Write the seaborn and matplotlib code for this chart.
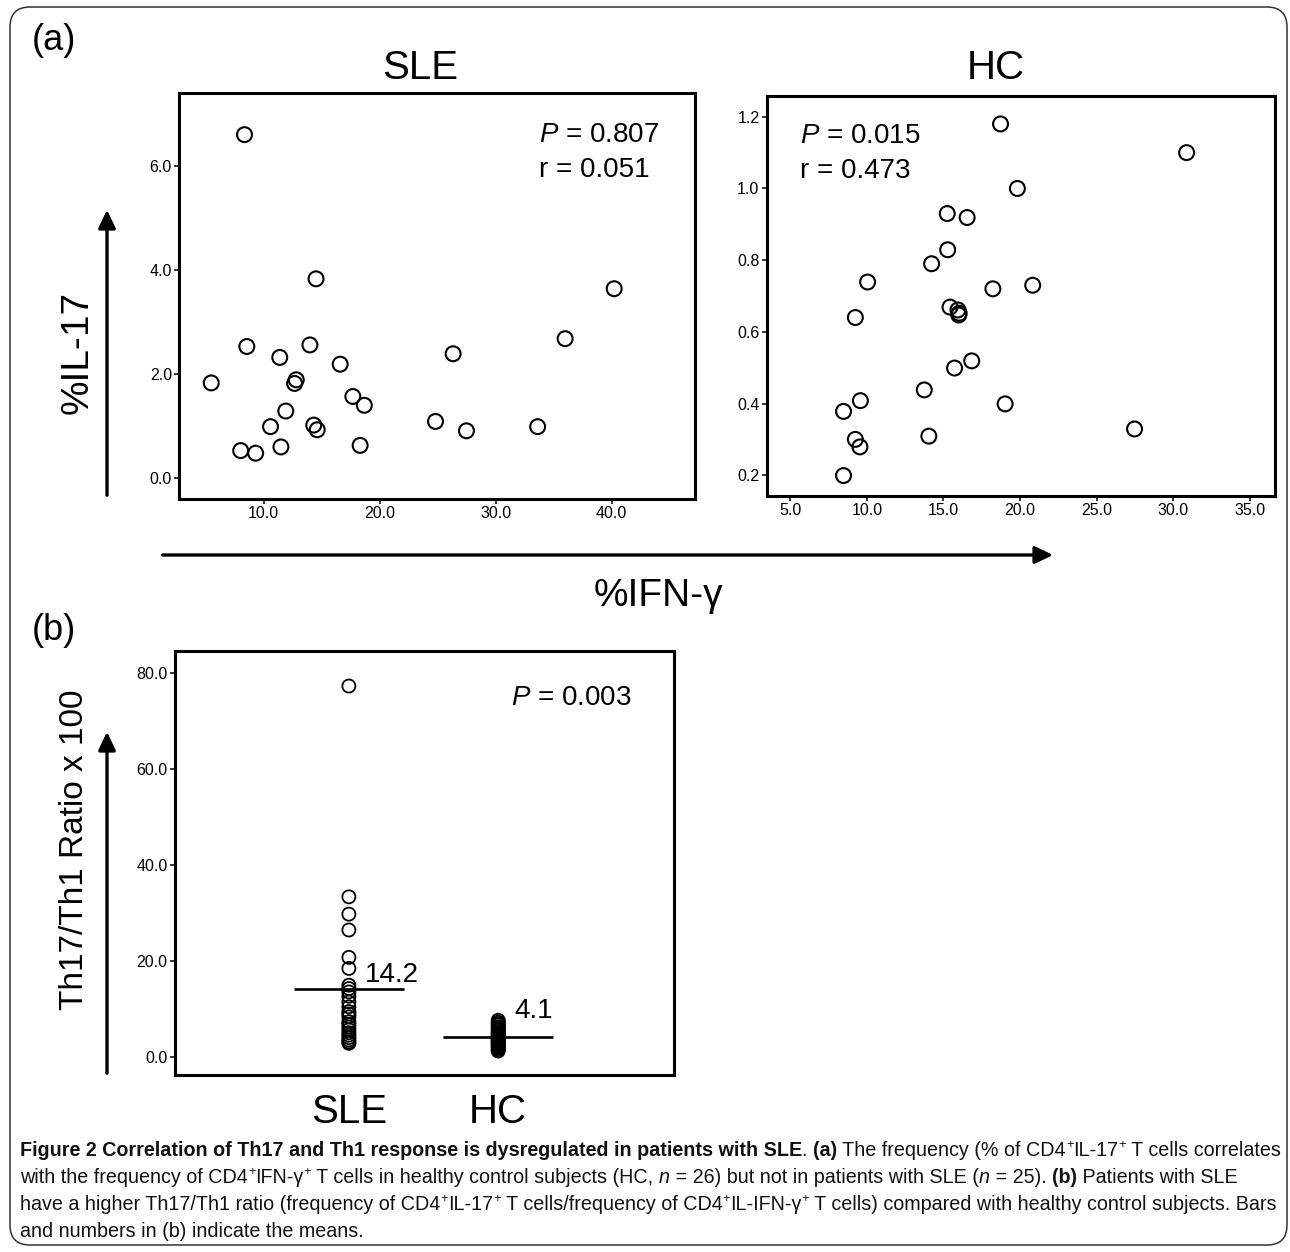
import numpy as np
import pandas as pd
import matplotlib
matplotlib.use("Agg")
import matplotlib.pyplot as plt
import seaborn as sns
from matplotlib import font_manager
from matplotlib.patches import FancyArrowPatch, FancyBboxPatch

# ---- data ----
sle_ifng = [8.35, 14.52, 40.23, 36.0, 8.55, 13.99, 26.34, 11.39, 16.60, 5.48, 12.81, 12.67, 17.69,
            18.68, 11.91, 24.82, 10.59, 14.32, 14.62, 27.49, 33.63, 8.02, 9.31, 11.49, 18.32]
sle_il17 = [6.60, 3.83, 3.64, 2.68, 2.53, 2.56, 2.39, 2.32, 2.19, 1.83, 1.89, 1.82, 1.57,
            1.40, 1.29, 1.09, 0.99, 1.02, 0.93, 0.91, 0.99, 0.53, 0.48, 0.60, 0.63]

hc_ifng = [18.73, 30.88, 19.83, 15.25, 16.55, 15.28, 14.23, 10.05, 18.23, 20.83, 9.25, 15.43, 15.95,
           16.03, 16.0, 16.85, 15.73, 13.75, 9.58, 8.48, 19.03, 9.25, 9.55, 14.05, 27.48, 8.48]
hc_il17 = [1.180, 1.100, 1.000, 0.930, 0.919, 0.829, 0.790, 0.739, 0.720, 0.730, 0.640, 0.669, 0.661,
           0.652, 0.647, 0.519, 0.499, 0.438, 0.408, 0.378, 0.399, 0.300, 0.279, 0.309, 0.329, 0.199]

ratio_sle = [77.2, 33.3, 29.7, 26.4, 20.7, 18.4, 14.9, 14.2, 13.5, 12.6, 11.4, 10.4, 9.4, 8.9, 8.3,
             7.3, 6.8, 6.2, 5.6, 5.0, 4.5, 4.0, 3.5, 3.1, 2.8]
ratio_hc = [7.6, 7.2, 6.9, 6.6, 6.2, 5.9, 5.6, 5.3, 5.0, 4.8, 4.5, 4.3, 4.1, 3.9, 3.7, 3.5, 3.3,
            3.1, 2.9, 2.7, 2.5, 2.3, 2.0, 1.8, 1.5, 1.2]
groups = ["SLE", "HC"]
group_means = [14.2, 4.1]
mean_labels = ["14.2", "4.1"]

stats_sle = ("0.807", "0.051")
stats_hc = ("0.015", "0.473")
p_ratio = "0.003"

# ---- style ----
sns.set_style("white")
plt.rcParams["font.family"] = ["Liberation Sans", "DejaVu Sans"]
plt.rcParams["text.color"] = "black"
plt.rcParams["axes.labelcolor"] = "black"
plt.rcParams["xtick.color"] = "black"
plt.rcParams["ytick.color"] = "black"
plt.rcParams["mathtext.fontset"] = "custom"
plt.rcParams["mathtext.rm"] = "Liberation Sans"
plt.rcParams["mathtext.it"] = "Liberation Sans:italic"
plt.rcParams["mathtext.bf"] = "Liberation Sans:bold"

names = {f.name for f in font_manager.fontManager.ttflist}
cap_family = "Liberation Sans Narrow" if "Liberation Sans Narrow" in names else "Liberation Sans"

W, H = 1290, 1252
fig = plt.figure(figsize=(W / 100, H / 100), dpi=100)


def fx(x):
    return x / W


def fy(y):
    return 1 - y / H


def box(l, t, r, b):
    return [fx(l), fy(b), (r - l) / W, (b - t) / H]


ax_sle = fig.add_axes(box(179, 93, 695, 499))
ax_hc = fig.add_axes(box(766.5, 96, 1275, 496))
ax_b = fig.add_axes(box(174.6, 651, 674, 1075))

df_sle = pd.DataFrame({"ifng": sle_ifng, "il17": sle_il17})
df_hc = pd.DataFrame({"ifng": hc_ifng, "il17": hc_il17})
df_ratio = pd.DataFrame({
    "group": ["SLE"] * len(ratio_sle) + ["HC"] * len(ratio_hc),
    "ratio": ratio_sle + ratio_hc,
})

sns.scatterplot(data=df_sle, x="ifng", y="il17", ax=ax_sle, s=115,
                facecolor="none", edgecolor="black", linewidth=1.5)
sns.scatterplot(data=df_hc, x="ifng", y="il17", ax=ax_hc, s=115,
                facecolor="none", edgecolor="black", linewidth=1.5)
sns.stripplot(data=df_ratio, x="group", y="ratio", order=groups, jitter=False, ax=ax_b,
              size=9.4, facecolor="none", edgecolor="black", linewidth=1.3)

for i, (m, lab) in enumerate(zip(group_means, mean_labels)):
    ax_b.hlines(m, i - 0.37, i + 0.37, color="black", lw=1.9)
    ax_b.text(i + 0.11, m + (2.8 if i == 0 else 5.5), lab, fontsize=20, va="center", ha="left")

ax_sle.set_xlim(2.7, 47.2)
ax_sle.set_ylim(-0.4, 7.4)
ax_sle.set_xticks([10, 20, 30, 40])
ax_sle.set_yticks([0, 2, 4, 6])

ax_hc.set_xlim(3.45, 36.65)
ax_hc.set_ylim(0.142, 1.258)
ax_hc.set_xticks([5, 10, 15, 20, 25, 30, 35])
ax_hc.set_yticks([0.2, 0.4, 0.6, 0.8, 1.0, 1.2])

ax_b.set_xlim(-1.167, 2.177)
ax_b.set_ylim(-3.8, 84.5)
ax_b.set_yticks([0, 20, 40, 60, 80])

for ax in (ax_sle, ax_hc, ax_b):
    ax.set_xlabel("")
    ax.set_ylabel("")
    for sp in ax.spines.values():
        sp.set_visible(True)
        sp.set_linewidth(2.2)
        sp.set_color("black")
    ax.tick_params(direction="out", length=3.6, width=1.1, labelsize=11.5, pad=1.5,
                   colors="black", left=True, bottom=True)
    ax.yaxis.set_major_formatter(matplotlib.ticker.FormatStrFormatter("%.1f"))
    if ax is not ax_b:
        ax.xaxis.set_major_formatter(matplotlib.ticker.FormatStrFormatter("%.1f"))

ax_b.tick_params(axis="x", length=0, labelsize=29, pad=13)

ax_sle.text(0.698, 0.897, rf"$P$ = {stats_sle[0]}", transform=ax_sle.transAxes, fontsize=20, va="center")
ax_sle.text(0.698, 0.810, f"r = {stats_sle[1]}", transform=ax_sle.transAxes, fontsize=20, va="center")
ax_hc.text(0.066, 0.900, rf"$P$ = {stats_hc[0]}", transform=ax_hc.transAxes, fontsize=20, va="center")
ax_hc.text(0.066, 0.8125, f"r = {stats_hc[1]}", transform=ax_hc.transAxes, fontsize=20, va="center")
ax_b.text(0.674, 0.889, rf"$P$ = {p_ratio}", transform=ax_b.transAxes, fontsize=20, va="center")

# ---- figure-level labels and arrows ----
fig.text(fx(54), fy(40), "(a)", fontsize=26, ha="center", va="center")
fig.text(fx(54), fy(630), "(b)", fontsize=26, ha="center", va="center")
fig.text(fx(420), fy(68), "SLE", fontsize=29, ha="center", va="center")
fig.text(fx(996), fy(68), "HC", fontsize=29, ha="center", va="center")
fig.text(fx(78), fy(352), "%IL-17", fontsize=28, rotation=90, ha="center", va="center")
fig.text(fx(658), fy(596), "%IFN-\u03b3", fontsize=28, ha="center", va="center")
fig.text(fx(75), fy(850), "Th17/Th1 Ratio x 100", fontsize=24, rotation=90, ha="center", va="center")

arrow_kw = dict(transform=fig.transFigure, arrowstyle="-|>,head_length=0.55,head_width=0.26",
                mutation_scale=20, lw=2.4, color="black")
fig.add_artist(FancyArrowPatch((fx(107), fy(498)), (fx(107), fy(207)), **arrow_kw))
fig.add_artist(FancyArrowPatch((fx(160), fy(555)), (fx(1056), fy(555)), **arrow_kw))
fig.add_artist(FancyArrowPatch((fx(107), fy(1076)), (fx(107), fy(729)), **arrow_kw))

fig.add_artist(FancyBboxPatch((0.10, 0.07), 12.77, 12.38, boxstyle="round,pad=0,rounding_size=0.2",
                              transform=fig.dpi_scale_trans, fill=False, lw=1.1, ec="#333333"))

# ---- caption ----
caption = [
    [("Figure 2 Correlation of Th17 and Th1 response is dysregulated in patients with SLE", "b"),
     (". ", "n"), ("(a)", "b"), (" The frequency (% of CD4", "n"), ("+", "s"), ("IL-17", "n"),
     ("+", "s"), (" T cells correlates", "n")],
    [("with the frequency of CD4", "n"), ("+", "s"), ("IFN-\u03b3", "n"), ("+", "s"),
     (" T cells in healthy control subjects (HC, ", "n"), ("n", "i"), (" = 26) but not in patients with SLE (", "n"),
     ("n", "i"), (" = 25). ", "n"), ("(b)", "b"), (" Patients with SLE", "n")],
    [("have a higher Th17/Th1 ratio (frequency of CD4", "n"), ("+", "s"), ("IL-17", "n"), ("+", "s"),
     (" T cells/frequency of CD4", "n"), ("+", "s"), ("IL-IFN-\u03b3", "n"), ("+", "s"),
     (" T cells) compared with healthy control subjects. Bars", "n")],
    [("and numbers in (b) indicate the means.", "n")],
]
cap_base = [1156, 1183, 1210, 1237]

renderer = fig.canvas.get_renderer()


def run_props(kind, size):
    weight = "bold" if kind == "b" else "normal"
    style = "italic" if kind == "i" else "normal"
    fs = size * 0.66 if kind == "s" else size
    return fs, weight, style


def text_width(s, fs, weight, style):
    t = fig.text(0, 0, "|" + s + "|", fontsize=fs, fontweight=weight, style=style, family=cap_family)
    w1 = t.get_window_extent(renderer).width
    t.set_text("||")
    w0 = t.get_window_extent(renderer).width
    t.remove()
    return w1 - w0


def draw_line(runs, x, y, size, draw=True):
    cur = x
    for s, kind in runs:
        fs, weight, style = run_props(kind, size)
        dy = size * 0.42 * 100 / 72 if kind == "s" else 0
        if draw:
            fig.text(fx(cur), fy(y - dy), s, fontsize=fs, fontweight=weight, style=style,
                     family=cap_family, va="baseline", ha="left", color="#111111")
        cur += text_width(s, fs, weight, style)
    return cur - x


base_size = 12
w = draw_line(caption[0], 20, 0, base_size, draw=False)
cap_size = base_size * 1258 / w
for runs, yb in zip(caption, cap_base):
    draw_line(runs, 20, yb, cap_size)

fig.savefig("out.png", dpi=100)
